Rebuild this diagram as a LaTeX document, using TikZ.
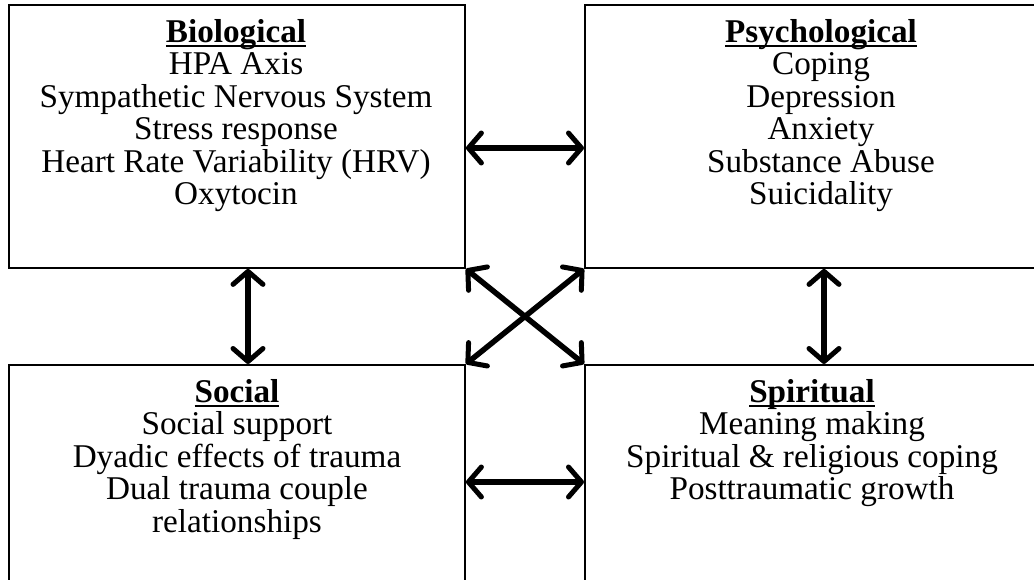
\documentclass[tikz,border=0pt]{standalone}
\usepackage{fontspec}
\setmainfont{Liberation Serif}
\usetikzlibrary{arrows.meta,calc}
\newcommand\myul[1]{\setbox0\hbox{#1}\rlap{\rule[-0.14em]{\wd0}{0.045em}}\box0}
\tikzset{
  box/.style={draw, line width=1.9pt, rectangle, anchor=north west, inner sep=0pt},
  txt/.style={anchor=north, align=center, inner sep=0pt, font=\fontsize{33.2}{32.5}\selectfont},
  barb/.tip={Straight Barb[length=13pt,width=30pt,line width=5pt,line cap=round,line join=round]},
  link/.style={line width=5.5pt, barb-barb}
}
\begin{document}
\begin{tikzpicture}[x=1pt,y=1pt]
\useasboundingbox (0,0) rectangle (1034,579);
\begin{scope}
\clip (0,0) rectangle (1034,579);
\node[box, minimum width=456pt, minimum height=263pt] (bio) at (8,575) {};
\node[box, minimum width=480pt, minimum height=263pt] (psy) at (584,575) {};
\node[box, minimum width=456pt, minimum height=240pt] (soc) at (8,215) {};
\node[box, minimum width=480pt, minimum height=240pt] (spi) at (584,215) {};
\end{scope}
\node[txt] (biot) at ($(bio.north west)+(228,-15)$) {\myul{\textbf{Biological}}\\HPA Axis\\Sympathetic Nervous System\\Stress response\\Heart Rate Variability (HRV)\\Oxytocin};
\node[txt] (psyt) at ($(psy.north west)+(237,-15)$) {\myul{\textbf{Psychological}}\\Coping\\Depression\\Anxiety\\Substance Abuse\\Suicidality};
\node[txt] (soct) at ($(soc.north west)+(229,-15)$) {\myul{\textbf{Social}}\\Social support\\Dyadic effects of trauma\\Dual trauma couple\\relationships};
\node[txt] (spit) at ($(spi.north west)+(228,-15)$) {\myul{\textbf{Spiritual}}\\Meaning making\\Spiritual \& religious coping\\Posttraumatic growth};
\coordinate (h1) at ($(bio.north east)+(0,-144)$);
\coordinate (h2) at ($(soc.north east)+(0,-118)$);
\coordinate (v1) at ($(bio.south west)+(240,0)$);
\coordinate (v2) at ($(psy.south west)+(240,0)$);
\draw[link] (h1) -- (h1 -| psy.west);
\draw[link] (h2) -- (h2 -| spi.west);
\draw[link] (v1) -- (v1 |- soc.north);
\draw[link] (v2) -- (v2 |- spi.north);
\draw[link] (bio.south east) -- (spi.north west);
\draw[link] (psy.south west) -- (soc.north east);
\end{tikzpicture}
\end{document}
